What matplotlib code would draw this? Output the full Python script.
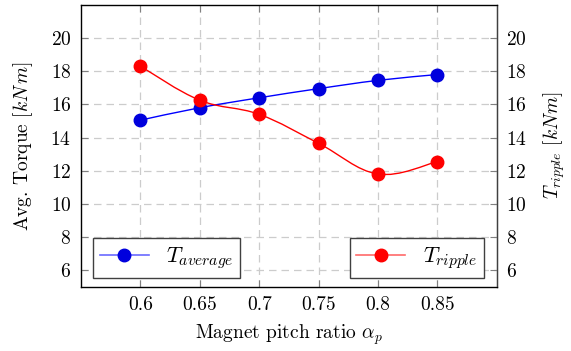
import numpy as np
import matplotlib
matplotlib.use('Agg')
import matplotlib.pyplot as plt
from matplotlib.path import Path
from matplotlib.patches import PathPatch
from matplotlib.lines import Line2D

plt.rcParams['font.family'] = 'serif'
plt.rcParams['font.serif'] = ['cmr10', 'DejaVu Serif']
plt.rcParams['mathtext.fontset'] = 'cm'
plt.rcParams['axes.formatter.use_mathtext'] = True
plt.rcParams['font.size'] = 14

# data
pitch_ratio = [0.6, 0.65, 0.7, 0.75, 0.8, 0.85]
t_average = [15.05, 15.8, 16.4, 16.95, 17.45, 17.8]
t_ripple = [18.3, 16.25, 15.4, 13.65, 11.8, 12.55]
y_ticks = [6, 8, 10, 12, 14, 16, 18, 20]


def smooth_path(x, y, tension=0.55):
    # pgfplots-like smooth curve: cubic Bezier segments through the points
    x = np.asarray(x, float)
    y = np.asarray(y, float)
    n = len(x)
    verts = [(x[0], y[0])]
    codes = [Path.MOVETO]
    for i in range(n - 1):
        p0 = (x[max(i - 1, 0)], y[max(i - 1, 0)])
        p1 = (x[i], y[i])
        p2 = (x[i + 1], y[i + 1])
        p3 = (x[min(i + 2, n - 1)], y[min(i + 2, n - 1)])
        k = tension / 3.0
        c1 = (p1[0] + k * (p2[0] - p0[0]), p1[1] + k * (p2[1] - p0[1]))
        c2 = (p2[0] - k * (p3[0] - p1[0]), p2[1] - k * (p3[1] - p1[1]))
        verts += [c1, c2, p2]
        codes += [Path.CURVE4] * 3
    return Path(verts, codes)


fig, ax = plt.subplots(figsize=(5.71, 3.51), dpi=100)
fig.subplots_adjust(left=0.142, right=0.870, top=0.986, bottom=0.183)

ax.set_xlim(0.55, 0.9)
ax.set_ylim(5, 22)
ax.set_xticks(pitch_ratio)
ax.set_xticklabels(['0.6', '0.65', '0.7', '0.75', '0.8', '0.85'])
ax.set_yticks(y_ticks)
ax.grid(True, color='#cccccc', linestyle=(0, (6, 4)), linewidth=0.9)
ax.tick_params(direction='in', length=5, color='#808080', top=True, right=False,
               pad=7)
for s in ax.spines.values():
    s.set_color('#404040')
    s.set_linewidth(1.0)

ax.add_patch(PathPatch(smooth_path(pitch_ratio, t_average), fill=False,
                       edgecolor='blue', linewidth=1.0, zorder=3))
ax.plot(pitch_ratio, t_average, linestyle='none', marker='o', color='#0000dd',
        markersize=9, zorder=4)

ax2 = ax.twinx()
ax2.set_ylim(5, 22)
ax2.set_yticks(y_ticks)
ax2.tick_params(direction='in', length=5, color='#808080', pad=7)
ax2.spines['right'].set_color('#404040')
ax2.add_patch(PathPatch(smooth_path(pitch_ratio, t_ripple), fill=False,
                        edgecolor='red', linewidth=1.0, zorder=3))
ax2.plot(pitch_ratio, t_ripple, linestyle='none', marker='o', color='red',
         markersize=9, zorder=4)

ax.set_xlabel(r'Magnet pitch ratio $\alpha_p$', labelpad=6)
ax.set_ylabel(r'Avg. Torque [$k N\, m$]', labelpad=11)
ax2.set_ylabel(r'$T_{ripple}$ [$kNm$]', labelpad=10)

h1 = Line2D([], [], color='#6a6aff', marker='o', markerfacecolor='#0000dd',
            markeredgecolor='#0000dd', markersize=9, linewidth=1.2)
h2 = Line2D([], [], color='#ff6a6a', marker='o', markerfacecolor='red',
            markeredgecolor='red', markersize=9, linewidth=1.2)
leg1 = ax2.legend([h1], [r'$T_{average}$'], loc='lower left', fancybox=False,
                  edgecolor='#404040', framealpha=1, fontsize=16,
                  borderaxespad=0, handlelength=2.2, borderpad=0.3,
                  bbox_to_anchor=(0.029, 0.032))
leg1.get_frame().set_linewidth(1.0)
ax2.add_artist(leg1)
leg2 = ax2.legend([h2], [r'$T_{ripple}$'], loc='lower right', fancybox=False,
                  edgecolor='#404040', framealpha=1, fontsize=16,
                  borderaxespad=0, handlelength=2.2, borderpad=0.3,
                  bbox_to_anchor=(0.969, 0.032))
leg2.get_frame().set_linewidth(1.0)

fig.savefig('out.png', dpi=100)
